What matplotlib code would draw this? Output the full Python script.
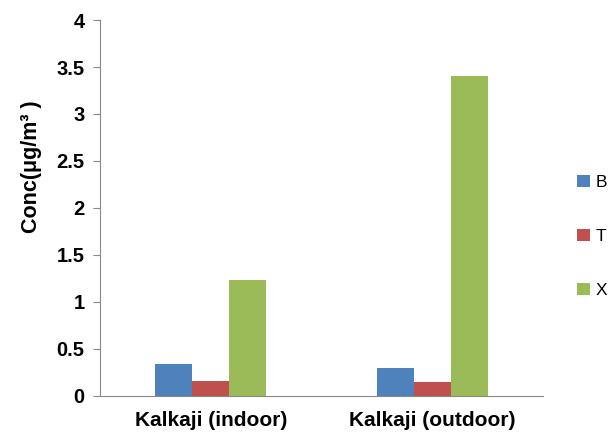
import numpy as np
import matplotlib
matplotlib.use("Agg")
import matplotlib.pyplot as plt

plt.rcParams["font.family"] = ["Liberation Sans", "DejaVu Sans"]

sites = ["Kalkaji (indoor)", "Kalkaji (outdoor)"]
compounds = ["B", "T", "X"]
conc_B = [0.34, 0.30]
conc_T = [0.16, 0.15]
conc_X = [1.23, 3.40]
colours = ["#4f81bd", "#c0504d", "#9bbb59"]

fig = plt.figure(figsize=(6.11, 4.33), dpi=100)
ax = fig.add_axes([0.1637, 0.0855, 0.725, 0.8683])

x = np.arange(len(sites))
w = 0.167
for i, (vals, name, col) in enumerate(zip([conc_B, conc_T, conc_X], compounds, colours)):
    ax.bar(x + (i - 1) * w, vals, width=w, color=col, label=name)

ax.set_xlim(-0.5, 1.5)
ax.set_ylim(0, 4)
ax.set_yticks(np.arange(0, 4.01, 0.5))
ax.set_yticklabels(["0", "0.5", "1", "1.5", "2", "2.5", "3", "3.5", "4"],
                   fontsize=14.5, fontweight="bold")
ax.set_xticks(x)
ax.set_xticklabels(sites, fontsize=15, fontweight="bold")
ax.tick_params(axis="x", length=0, pad=11)
ax.tick_params(axis="y", length=5, color="#888888", pad=6)
for s in ["top", "right"]:
    ax.spines[s].set_visible(False)
for s in ["left", "bottom"]:
    ax.spines[s].set_color("#888888")
ax.set_ylabel("Conc(μg/m³ )", fontsize=15.5, fontweight="bold")
ax.yaxis.set_label_coords(-0.13, 0.61)

ax.legend(loc="center left", bbox_to_anchor=(0.945, 0.454),
          bbox_transform=fig.transFigure, frameon=False, borderpad=0,
          borderaxespad=0, fontsize=12.5, handlelength=0.7, handleheight=0.7,
          labelspacing=2.25, handletextpad=0.35)

fig.savefig("out.png", dpi=100)
